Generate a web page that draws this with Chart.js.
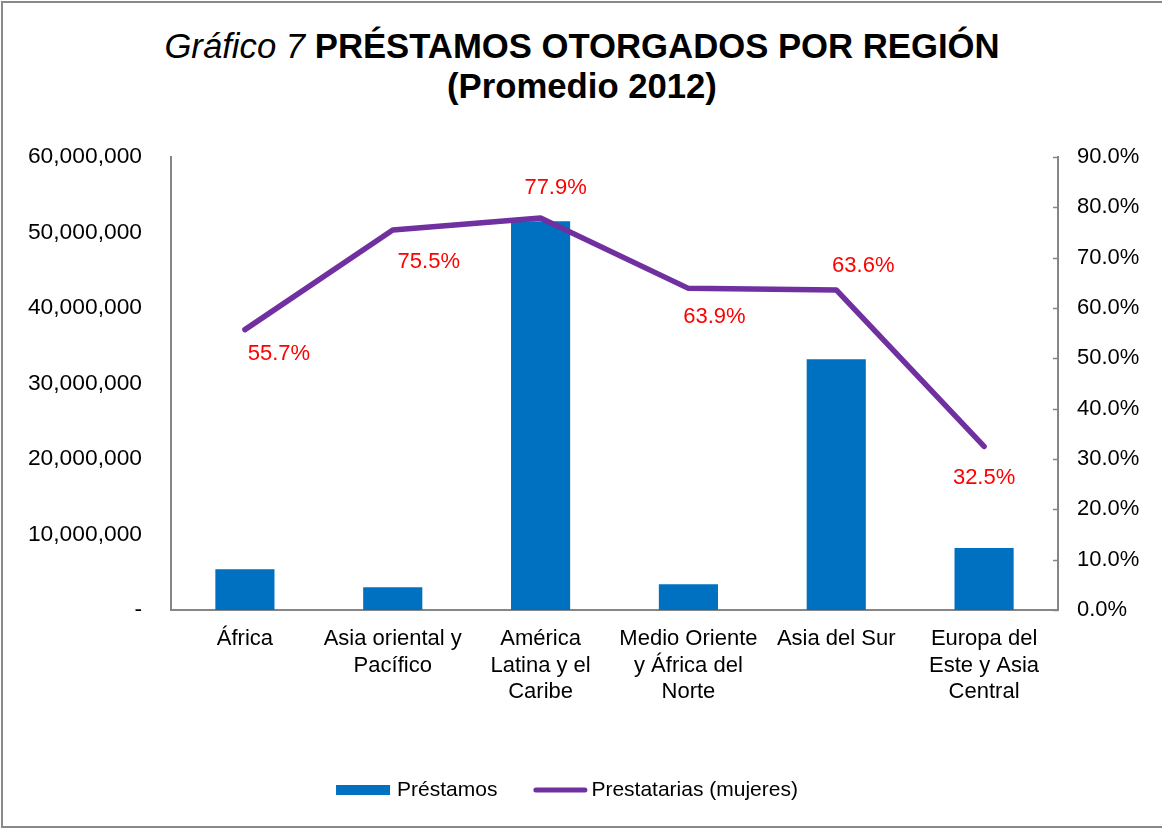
<!DOCTYPE html>
<html><head><meta charset="utf-8">
<script src="https://cdn.jsdelivr.net/npm/chart.js@4"></script>
<style>
html,body{margin:0;padding:0;background:#fff;overflow:hidden;}
#wrap{position:relative;width:1162px;height:829px;overflow:hidden;}
#frame{position:absolute;left:1px;top:1px;width:1175px;height:827px;border:2px solid #898989;box-sizing:border-box;}
#title{position:absolute;left:0;top:26px;width:1164px;text-align:center;font-family:"Liberation Sans",Arial,sans-serif;font-size:34.7px;line-height:40px;color:#000;}
#title i{font-style:italic;font-weight:normal;}
#title b{font-weight:bold;}
#cv{position:absolute;left:0;top:0;width:1162px;height:829px;}
</style></head>
<body><div id="wrap"><div id="frame"></div>
<div id="title"><i>Gráfico 7</i> <b>PRÉSTAMOS OTORGADOS POR REGIÓN</b><br><b>(Promedio 2012)</b></div>
<div id="cv"><canvas id="c" width="1162" height="829"></canvas></div></div>
<script>
const categories = [["África"],["Asia oriental y","Pacífico"],["América","Latina y el","Caribe"],["Medio Oriente","y África del","Norte"],["Asia del Sur"],["Europa del","Este y Asia","Central"]];
const prestamos = [5400000, 3000000, 51500000, 3400000, 33200000, 8200000];
const prestatariasMujeres = [55.7, 75.5, 77.9, 63.9, 63.6, 32.5];
const leftTickLabels = ["-","10,000,000","20,000,000","30,000,000","40,000,000","50,000,000","60,000,000"];
const rightTickLabels = ["0.0%","10.0%","20.0%","30.0%","40.0%","50.0%","60.0%","70.0%","80.0%","90.0%"];
const seriesNames = ["Préstamos","Prestatarias (mujeres)"];

const FONT = '"Liberation Sans", Arial, sans-serif';
const AXIS = '#868686';
const BLUE = '#0070C0';
const PURPLE = '#7030A0';

const pctLabels = {
  id: 'pctLabels',
  afterDatasetsDraw(chart, args, opts) {
    const meta = chart.getDatasetMeta(1);
    const ctx = chart.ctx;
    ctx.save();
    ctx.font = '22px ' + FONT;
    ctx.fillStyle = '#FF0000';
    ctx.textAlign = 'center';
    ctx.textBaseline = 'middle';
    meta.data.forEach((pt, i) => {
      const o = opts.offsets[i];
      ctx.fillText(prestatariasMujeres[i].toFixed(1) + '%', pt.x + o[0], pt.y + o[1]);
    });
    ctx.restore();
  }
};
const innerTicks = {
  id: 'innerTicks',
  afterDraw(chart) {
    const s = chart.scales.y1;
    const ctx = chart.ctx;
    ctx.save();
    ctx.strokeStyle = AXIS;
    ctx.lineWidth = 1.5;
    ctx.beginPath();
    s.ticks.forEach((t, i) => {
      const y = Math.round(s.getPixelForTick(i)) + 0.5;
      ctx.moveTo(s.left - 5, y);
      ctx.lineTo(s.left, y);
    });
    ctx.stroke();
    ctx.restore();
  }
};
// legend drawn below the axis labels, Excel style
const excelLegend = {
  id: 'excelLegend',
  afterDraw(chart, args, opts) {
    const ctx = chart.ctx;
    const ds = chart.data.datasets;
    ctx.save();
    ctx.font = opts.fontSize + 'px ' + FONT;
    ctx.textBaseline = 'middle';
    ctx.textAlign = 'left';
    const w0 = ctx.measureText(ds[0].label).width;
    const w1 = ctx.measureText(ds[1].label).width;
    const total = opts.sym + opts.gapText + w0 + opts.gapItem + opts.sym + opts.gapText2 + w1;
    let x = chart.width / 2 + opts.shift - total / 2;
    const y = chart.height - opts.fromBottom;
    ctx.fillStyle = ds[0].backgroundColor;
    ctx.fillRect(x, y - 5, opts.sym, 10);
    x += opts.sym + opts.gapText;
    ctx.fillStyle = '#000';
    ctx.fillText(ds[0].label, x, y);
    x += w0 + opts.gapItem;
    ctx.strokeStyle = ds[1].borderColor;
    ctx.lineWidth = 5;
    ctx.lineCap = 'round';
    ctx.beginPath();
    ctx.moveTo(x + 2.5, y);
    ctx.lineTo(x + opts.sym - 2.5, y);
    ctx.stroke();
    x += opts.sym + opts.gapText2;
    ctx.fillText(ds[1].label, x, y);
    ctx.restore();
  }
};

Chart.defaults.font.family = FONT;
Chart.defaults.color = '#000';

new Chart(document.getElementById('c'), {
  type: 'bar',
  data: {
    labels: categories,
    datasets: [
      { type: 'bar', label: seriesNames[0], data: prestamos, backgroundColor: BLUE, yAxisID: 'y', order: 1,
        categoryPercentage: 1, barPercentage: 0.4 },
      { type: 'line', label: seriesNames[1], data: prestatariasMujeres, borderColor: PURPLE, borderWidth: 5.5,
        pointRadius: 0, tension: 0, yAxisID: 'y1', order: 0, borderCapStyle: 'round', borderJoinStyle: 'round' }
    ]
  },
  options: {
    responsive: false,
    animation: false,
    devicePixelRatio: 1,
    layout: { padding: { top: 157, left: 0, right: 0, bottom: 79 } },
    plugins: {
      title: { display: false },
      tooltip: { enabled: false },
      legend: { display: false },
      pctLabels: { offsets: [[34,24],[36,32],[15,-30],[26,29],[27,-24],[0,32]] },
      excelLegend: { fontSize: 21, sym: 54, gapText: 7, gapItem: 36, gapText2: 4, shift: -14, fromBottom: 39 }
    },
    scales: {
      x: {
        offset: true,
        grid: { display: false, drawTicks: false },
        border: { display: true, color: AXIS, width: 2 },
        ticks: { font: { size: 22 }, color: '#000', maxRotation: 0, autoSkip: false, padding: 16 },
        afterFit(s) { s.height = 140; }
      },
      y: {
        position: 'left',
        min: 0, max: 60000000,
        grid: { display: false, drawTicks: false },
        border: { display: true, color: AXIS, width: 2 },
        ticks: { stepSize: 10000000, font: { size: 22.8 }, color: '#000', padding: 29,
          callback: (v, i) => leftTickLabels[i] },
        afterFit(s) { s.width = 171; }
      },
      y1: {
        position: 'right',
        min: 0, max: 90,
        grid: { display: false, drawTicks: false },
        border: { display: true, color: AXIS, width: 2 },
        ticks: { stepSize: 10, font: { size: 22 }, color: '#000', padding: 19,
          callback: (v, i) => rightTickLabels[i] },
        afterFit(s) { s.width = 104; }
      }
    }
  },
  plugins: [pctLabels, innerTicks, excelLegend]
});
</script>
</body></html>
